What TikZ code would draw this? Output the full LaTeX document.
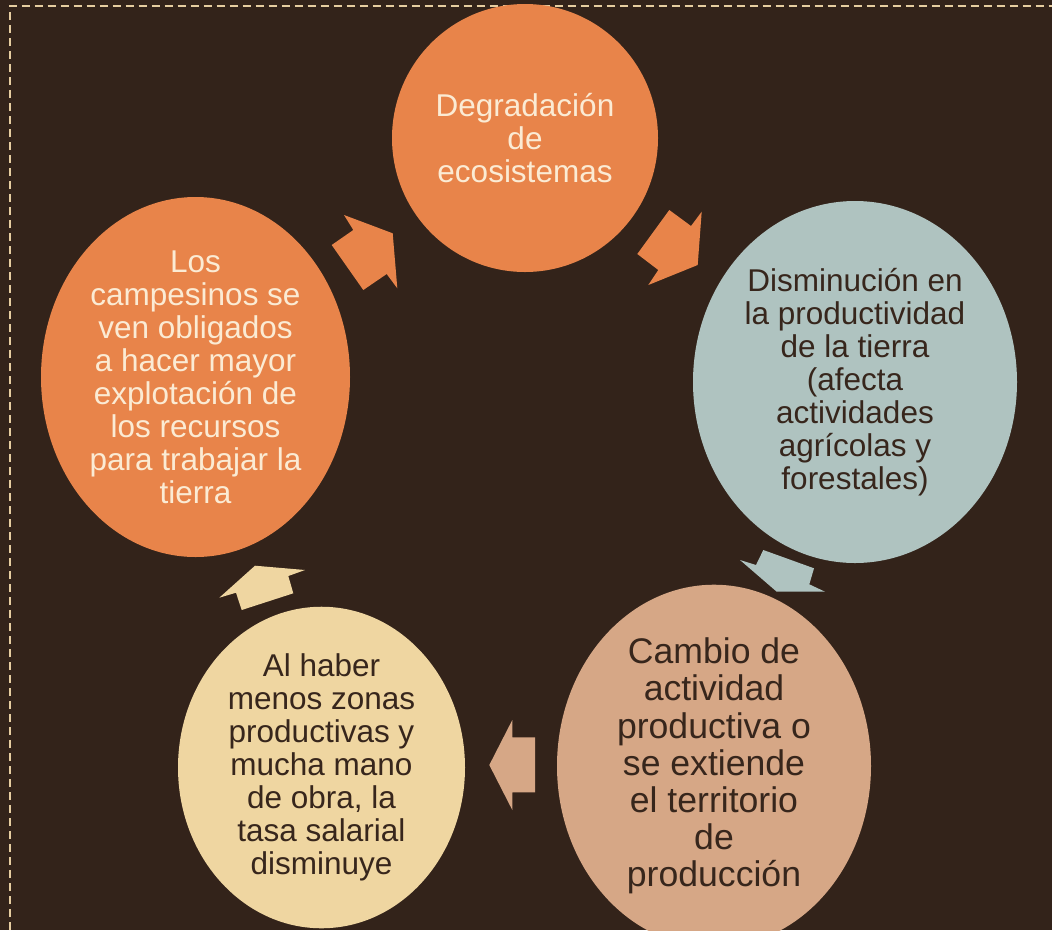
\documentclass[tikz,border=0pt]{standalone}
\usepackage{fontspec}
\setmainfont{Liberation Sans}
\usetikzlibrary{shapes.geometric}
\definecolor{bg}{HTML}{33231A}
\definecolor{rust}{HTML}{E8844A}
\definecolor{sage}{HTML}{AFC3C0}
\definecolor{clay}{HTML}{D6A786}
\definecolor{sand}{HTML}{EFD6A1}
\definecolor{ink}{HTML}{37261C}
\definecolor{paper}{HTML}{FBEBD4}
\definecolor{stitch}{HTML}{E6CDA0}
\begin{document}
\begin{tikzpicture}[x=1pt,y=-1pt,
  bubble/.style={ellipse, inner sep=0pt, align=center,
    font=\fontsize{31.5}{33}\selectfont},
  bigbubble/.style={bubble, font=\fontsize{35.6}{37.2}\selectfont},
  border/.style={stitch, line width=2pt, dash pattern=on 8.5pt off 4.5pt}]

% canvas
\useasboundingbox (0,0) rectangle (1052,930);
\fill[bg] (0,0) rectangle (1052,930);

% stitched frame along the left and top
\draw[border] (9.5,930) -- (9.5,6) -- (1052,6);

% the five stages of the cycle
\node[bubble, fill=rust, text=paper, minimum width=266pt, minimum height=268pt]
  (degradacion) at (525,138) {Degradación\\de\\ecosistemas};
\node[bubble, fill=sage, text=ink, minimum width=324pt, minimum height=362pt]
  (productividad) at (855,382) {Disminución en\\la productividad\\de la tierra\\(afecta\\actividades\\agrícolas y\\forestales)};
\node[bigbubble, fill=clay, text=ink, minimum width=314pt, minimum height=336pt]
  (cambio) at (714,766) {Cambio de\\actividad\\productiva o\\se extiende\\el territorio\\de\\producción};
\node[bubble, fill=sand, text=ink, minimum width=287pt, minimum height=309pt]
  (salario) at (321.5,767.5) {Al haber\\menos zonas\\productivas y\\mucha mano\\de obra, la\\tasa salarial\\disminuye};
\node[bubble, fill=rust, text=paper, minimum width=309pt, minimum height=360pt]
  (campesinos) at (195.5,377) {Los\\campesinos se\\ven obligados\\a hacer mayor\\explotación de\\los recursos\\para trabajar la\\tierra};

% block arrows between the stages
\fill[rust] (344.0,215.0) -- (392.7,233.3) -- (397.3,288.3) -- (386.7,274.0)
  -- (363.3,290.0) -- (331.7,245.0) -- (353.3,230.0) -- cycle;
\fill[rust] (669.3,210.0) -- (691.0,226.0) -- (701.7,211.7) -- (697.7,265.0)
  -- (648.3,285.0) -- (658.3,270.0) -- (637.3,254.0) -- cycle;
\fill[sage] (740.0,560.0) -- (756.0,565.0) -- (763.3,550.0) -- (814.0,568.3)
  -- (809.3,584.3) -- (825.0,591.7) -- (776.7,591.7) -- cycle;
\fill[clay] (512.3,720.0) -- (512.3,737.3) -- (535.0,737.3) -- (535.0,792.3)
  -- (512.3,792.3) -- (512.3,810.0) -- (489.3,765.0) -- cycle;
\fill[sand] (219.3,597.7) -- (236.0,592.7) -- (241.7,610.0) -- (293.3,593.3)
  -- (288.3,576.0) -- (305.0,570.0) -- (255.0,565.7) -- cycle;
\end{tikzpicture}
\end{document}
